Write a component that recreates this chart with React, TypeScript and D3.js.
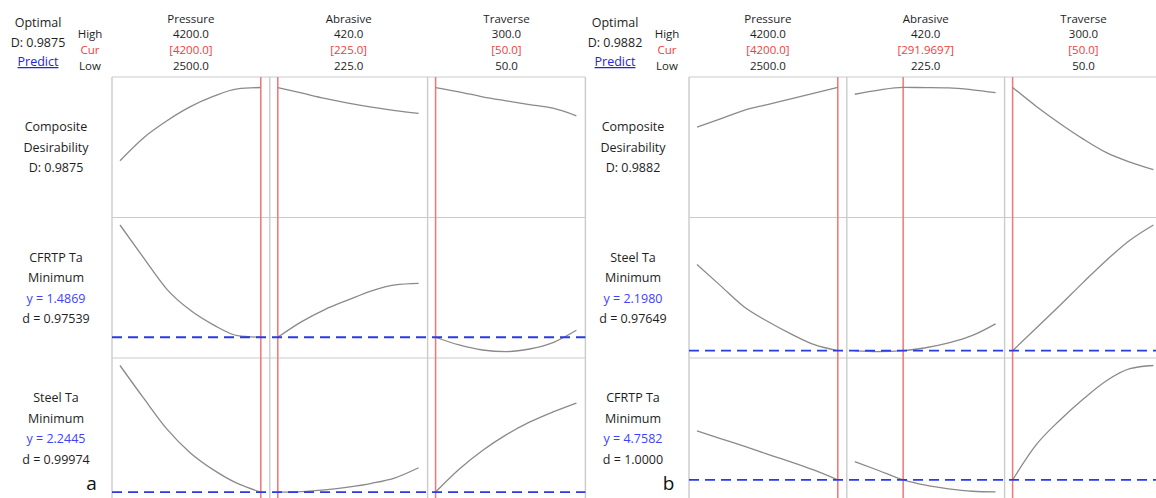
import React from "react";
import * as d3 from "d3";

// ---- factors ----
const factorNames = ["Pressure", "Abrasive", "Traverse"];
const factorLow = [2500, 225, 50];
const factorHigh = [4200, 420, 300];
const highLabels = ["4200.0", "420.0", "300.0"];
const lowLabels = ["2500.0", "225.0", "50.0"];

// sample settings along each factor
const pressureX = [2500, 2783, 3067, 3350, 3633, 3917, 4200];
const abrasiveXa = [225, 257.5, 290, 322.5, 355, 387.5, 420];
const abrasiveXb = [225, 258, 291.9697, 323, 355, 388, 420];
const traverseX = [50, 91.7, 133.3, 175, 216.7, 258.3, 300];

// ---- panel (a) ----
const optimalA = "D: 0.9875";
const curA = [4200, 225, 50];
const curLabelsA = ["[4200.0]", "[225.0]", "[50.0]"];

const compA_pressure = [0.385, 0.573, 0.714, 0.83, 0.916, 0.976, 0.9875];
const compA_abrasive = [0.9875, 0.9426, 0.8975, 0.859, 0.826, 0.798, 0.775];
const compA_traverse = [0.9875, 0.9525, 0.9107, 0.878, 0.8475, 0.817, 0.755];

const cfrtpA_pressure = [3.59, 2.979, 2.385, 1.991, 1.715, 1.519, 1.4869];
const cfrtpA_abrasive = [1.4869, 1.775, 2.006, 2.187, 2.358, 2.467, 2.495];
const cfrtpA_traverse = [1.4869, 1.342, 1.248, 1.218, 1.267, 1.387, 1.619];

const steelA_pressure = [3.5, 3.178, 2.869, 2.633, 2.462, 2.33, 2.2445];
const steelA_abrasive = [2.2445, 2.2495, 2.2664, 2.2933, 2.3312, 2.386, 2.4856];
const steelA_traverse = [2.2445, 2.4707, 2.657, 2.812, 2.938, 3.039, 3.128];

// ---- panel (b) ----
const optimalB = "D: 0.9882";
const curB = [4200, 291.9697, 50];
const curLabelsB = ["[4200.0]", "[291.9697]", "[50.0]"];

const compB_pressure = [0.6615, 0.7303, 0.8, 0.8475, 0.8934, 0.9418, 0.9882];
const compB_abrasive = [0.932, 0.9664, 0.9882, 0.987, 0.9844, 0.9689, 0.9451];
const compB_traverse = [0.9882, 0.834, 0.694, 0.5648, 0.4516, 0.3738, 0.3115];

const steelB_pressure = [3.022, 2.82, 2.618, 2.479, 2.3586, 2.2547, 2.198];
const steelB_abrasive = [2.196, 2.1893, 2.198, 2.2259, 2.272, 2.344, 2.4547];
const steelB_traverse = [2.198, 2.4115, 2.6278, 2.849, 3.0634, 3.2538, 3.4];

const cfrtpB_pressure = [5.3763, 5.2791, 5.1833, 5.0824, 4.9852, 4.8806, 4.7582];
const cfrtpB_abrasive = [4.989, 4.8768, 4.7582, 4.6913, 4.6459, 4.6157, 4.6068];
const cfrtpB_traverse = [4.7582, 5.1997, 5.5074, 5.7749, 6.0082, 6.1596, 6.2];

// ---- layout ----
const W = 1156;
const H = 498;
const FIG_OFFSETS = [0, 577];
const BOX_LEFT = 112;
const COL_W = 157.8;
const BOX_TOP = 77;
const ROW_H = 140.5;
const INSET_L = 8;
const INSET_R = 9;
const FONT = "'Open Sans', 'Noto Sans', 'DejaVu Sans', sans-serif";
const FS = 12.5;
const HEAD_FS = 11.5;
const HEAD_Y = [22.5, 38.2, 53.9, 69.6];
const TEXT = "#1e1e1e";
const RED = "#f03c3c";
const BLUE_TXT = "#3f3fff";
const GRID = "#cbcbcb";

type Row = {
  lines: string[];
  blueIdx: number;
  domain: [number, number];
  pad: [number, number];
  curves: number[][];
  opt: number | null;
};

type Fig = {
  optimal: string;
  cur: number[];
  curLabels: string[];
  xs: number[][];
  rows: Row[];
  tag: string;
};

const figures: Fig[] = [
  {
    optimal: optimalA,
    cur: curA,
    curLabels: curLabelsA,
    xs: [pressureX, abrasiveXa, traverseX],
    tag: "a",
    rows: [
      {
        lines: ["Composite", "Desirability", optimalA],
        blueIdx: -1,
        domain: [0, 1],
        pad: [9, 10],
        curves: [compA_pressure, compA_abrasive, compA_traverse],
        opt: null,
      },
      {
        lines: ["CFRTP Ta", "Minimum", "y = 1.4869", "d = 0.97539"],
        blueIdx: 2,
        domain: [1.22, 3.59],
        pad: [7.5, 6.5],
        curves: [cfrtpA_pressure, cfrtpA_abrasive, cfrtpA_traverse],
        opt: 1.4869,
      },
      {
        lines: ["Steel Ta", "Minimum", "y = 2.2445", "d = 0.99974"],
        blueIdx: 2,
        domain: [2.245, 3.5],
        pad: [7.5, 6.5],
        curves: [steelA_pressure, steelA_abrasive, steelA_traverse],
        opt: 2.2445,
      },
    ],
  },
  {
    optimal: optimalB,
    cur: curB,
    curLabels: curLabelsB,
    xs: [pressureX, abrasiveXb, traverseX],
    tag: "b",
    rows: [
      {
        lines: ["Composite", "Desirability", optimalB],
        blueIdx: -1,
        domain: [0, 1],
        pad: [9, 10],
        curves: [compB_pressure, compB_abrasive, compB_traverse],
        opt: null,
      },
      {
        lines: ["Steel Ta", "Minimum", "y = 2.1980", "d = 0.97649"],
        blueIdx: 2,
        domain: [2.19, 3.4],
        pad: [7.5, 6.5],
        curves: [steelB_pressure, steelB_abrasive, steelB_traverse],
        opt: 2.198,
      },
      {
        lines: ["CFRTP Ta", "Minimum", "y = 4.7582", "d = 1.0000"],
        blueIdx: 2,
        domain: [4.606, 6.2],
        pad: [7.5, 6.5],
        curves: [cfrtpB_pressure, cfrtpB_abrasive, cfrtpB_traverse],
        opt: 4.7582,
      },
    ],
  },
];

function Figure({ fig, ox }: { fig: Fig; ox: number }) {
  const left = ox + BOX_LEFT;
  const right = left + COL_W * 3;
  const bottom = BOX_TOP + ROW_H * 3;

  const xScales = factorNames.map((_, c) =>
    d3
      .scaleLinear()
      .domain([factorLow[c], factorHigh[c]])
      .range([left + c * COL_W + INSET_L, left + (c + 1) * COL_W - INSET_R])
  );

  const rowScales = fig.rows.map((row, r) => {
    const top = BOX_TOP + r * ROW_H;
    return d3
      .scaleLinear()
      .domain(row.domain)
      .range([top + ROW_H - row.pad[1], top + row.pad[0]]);
  });

  const labelCx = ox + 56;

  return (
    <g fontFamily={FONT} fontSize={FS} fill={TEXT}>
      {/* optimum summary */}
      <text x={ox + 38} y={27} textAnchor="middle">Optimal</text>
      <text x={ox + 38} y={46.5} textAnchor="middle">{fig.optimal}</text>
      <text x={ox + 38} y={66} textAnchor="middle" fill="#2323e6" textDecoration="underline">
        Predict
      </text>
      <g fontSize={HEAD_FS} textAnchor="middle">
        <text x={ox + 90} y={HEAD_Y[1]}>High</text>
        <text x={ox + 90} y={HEAD_Y[2]} fill={RED}>Cur</text>
        <text x={ox + 90} y={HEAD_Y[3]}>Low</text>
      </g>

      {/* factor headers */}
      {factorNames.map((name, c) => {
        const cx = left + (c + 0.5) * COL_W;
        return (
          <g key={name} textAnchor="middle" fontSize={HEAD_FS}>
            <text x={cx} y={HEAD_Y[0]}>{name}</text>
            <text x={cx} y={HEAD_Y[1]}>{highLabels[c]}</text>
            <text x={cx} y={HEAD_Y[2]} fill={RED}>{fig.curLabels[c]}</text>
            <text x={cx} y={HEAD_Y[3]}>{lowLabels[c]}</text>
          </g>
        );
      })}

      {/* grid frame */}
      {[0, 1, 2, 3].map((r) => (
        <line
          key={"h" + r}
          x1={left}
          x2={right}
          y1={BOX_TOP + r * ROW_H}
          y2={BOX_TOP + r * ROW_H}
          stroke={GRID}
          strokeWidth={1.2}
        />
      ))}
      {[0, 1, 2, 3].map((c) => (
        <line
          key={"v" + c}
          x1={left + c * COL_W}
          x2={left + c * COL_W}
          y1={BOX_TOP}
          y2={bottom}
          stroke={GRID}
          strokeWidth={1.4}
        />
      ))}

      {/* current setting markers */}
      {fig.cur.map((v, c) => (
        <line
          key={"cur" + c}
          x1={xScales[c](v)}
          x2={xScales[c](v)}
          y1={BOX_TOP}
          y2={bottom}
          stroke="#f47575"
          strokeWidth={1.5}
        />
      ))}

      {/* response curves */}
      {fig.rows.map((row, r) =>
        row.curves.map((ys, c) => {
          const xs = fig.xs[c];
          const pts: [number, number][] = ys.map((y, i) => [xs[i], y]);
          const path = d3
            .line<[number, number]>()
            .x((d) => xScales[c](d[0]))
            .y((d) => rowScales[r](d[1]))
            .curve(d3.curveMonotoneX)(pts);
          return (
            <path
              key={`c${r}-${c}`}
              d={path || ""}
              fill="none"
              stroke="#8a8a8a"
              strokeWidth={1.3}
            />
          );
        })
      )}

      {/* optimum response levels */}
      {fig.rows.map((row, r) =>
        row.opt === null ? null : (
          <line
            key={"opt" + r}
            x1={left}
            x2={right}
            y1={rowScales[r](row.opt)}
            y2={rowScales[r](row.opt)}
            stroke="#2a3ae6"
            strokeWidth={1.8}
            strokeDasharray="10,6"
          />
        )
      )}

      {/* row labels */}
      {fig.rows.map((row, r) => {
        const center = BOX_TOP + r * ROW_H + ROW_H / 2;
        const n = row.lines.length;
        const first = center - ((n - 1) / 2) * 20.5 + 4.5;
        return (
          <g key={"lab" + r} textAnchor="middle">
            {row.lines.map((t, i) => (
              <text
                key={i}
                x={labelCx}
                y={first + i * 20.5}
                fill={i === row.blueIdx ? BLUE_TXT : TEXT}
              >
                {t}
              </text>
            ))}
          </g>
        );
      })}

      <text x={ox + 91.5} y={490} textAnchor="middle" fontSize={19} fill="#111">
        {fig.tag}
      </text>
    </g>
  );
}

export default function App() {
  return (
    <svg
      width={W}
      height={H}
      style={{ position: "absolute", left: 0, top: 0, background: "#fff" }}
    >
      <rect x={0} y={0} width={W} height={H} fill="#fff" />
      {figures.map((fig, i) => (
        <Figure key={fig.tag} fig={fig} ox={FIG_OFFSETS[i]} />
      ))}
    </svg>
  );
}
